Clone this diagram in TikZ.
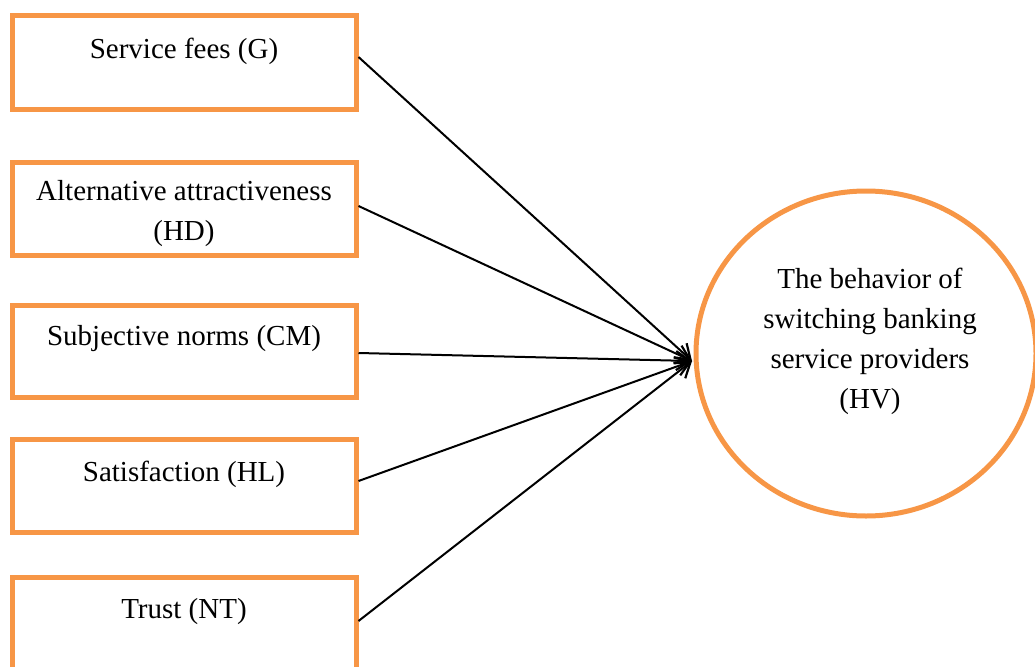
\documentclass[tikz,border=0pt]{standalone}
\usepackage{fontspec}
\setmainfont{Liberation Serif}
\usetikzlibrary{arrows.meta,shapes.geometric}
\definecolor{orng}{RGB}{247,150,70}
\begin{document}
\begin{tikzpicture}[x=1pt,y=-1pt,
  factor/.style={draw=orng,line width=5pt,minimum width=344pt,inner sep=0pt},
  lbl/.style={anchor=base,align=center,inner sep=0pt,font=\fontsize{29}{40}\selectfont},
  conn/.style={line width=2pt,-{Straight Barb[length=14pt,width=19pt,line width=2.2pt]}}]
\useasboundingbox (0,0) rectangle (1035,666);
\node[factor,minimum height=94.5pt] (b1) at (184,62.75) {};
\node[factor,minimum height=93pt] (b2) at (184,209) {};
\node[factor,minimum height=92pt] (b3) at (184,351.5) {};
\node[factor,minimum height=93pt] (b4) at (184,485.5) {};
\node[factor,minimum height=93pt] (b5) at (184,624) {};
\node[lbl] (t1) at (184,59) {Service fees (G)};
\node[lbl] (t2) at (184,240) {Alternative attractiveness\\(HD)};
\node[lbl] (t3) at (184,345) {Subjective norms (CM)};
\node[lbl] (t4) at (184,481) {Satisfaction (HL)};
\node[lbl] (t5) at (184,618) {Trust (NT)};
\node[ellipse,draw=orng,line width=5pt,minimum width=340pt,minimum height=325pt,inner sep=0pt] (hv) at (866,353.5) {};
\node[lbl] (thv) at (870,408) {The behavior of\\switching banking\\service providers\\(HV)};
\coordinate (tip) at (692,361);
\draw[conn] ([yshift=5.75pt]b1.east) -- (tip);
\draw[conn] ([yshift=3pt]b2.east) -- (tip);
\draw[conn] ([yshift=-1.5pt]b3.east) -- (tip);
\draw[conn] ([yshift=4.5pt]b4.east) -- (tip);
\draw[conn] ([yshift=3pt]b5.east) -- (tip);
\end{tikzpicture}
\end{document}
